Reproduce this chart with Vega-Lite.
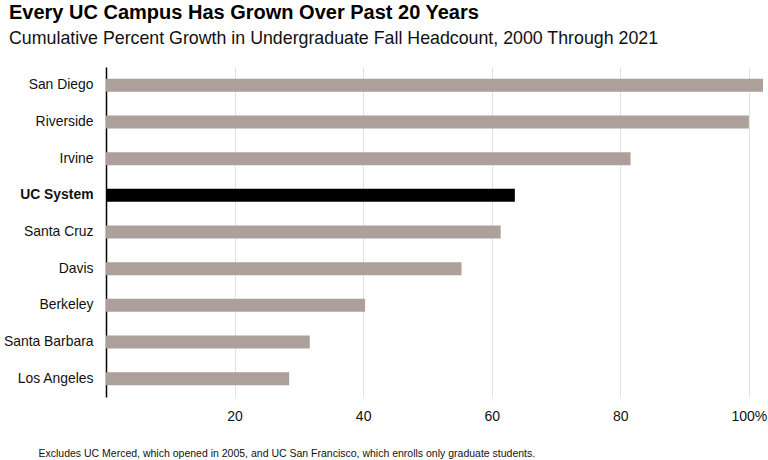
{
  "$schema": "https://vega.github.io/schema/vega-lite/v6.json",
  "autosize": {"type": "none"},
  "width": 657,
  "height": 330,
  "padding": {"left": 106, "top": 67, "right": 5, "bottom": 63},
  "background": "white",
  "config": {
    "font": "Liberation Sans",
    "view": {"stroke": null}
  },
  "title": {
    "text": "Every UC Campus Has Grown Over Past 20 Years",
    "subtitle": "Cumulative Percent Growth in Undergraduate Fall Headcount, 2000 Through 2021",
    "anchor": "start",
    "frame": "group",
    "dx": -97,
    "offset": 19,
    "fontSize": 20,
    "fontWeight": "bold",
    "color": "#000000",
    "subtitleFontSize": 17.8,
    "subtitleColor": "#111111",
    "subtitlePadding": 7
  },
  "data": {
    "values": [
      {"campus": "San Diego", "growth": 102.2},
      {"campus": "Riverside", "growth": 100.0},
      {"campus": "Irvine", "growth": 81.6},
      {"campus": "UC System", "growth": 63.6},
      {"campus": "Santa Cruz", "growth": 61.4},
      {"campus": "Davis", "growth": 55.3},
      {"campus": "Berkeley", "growth": 40.3},
      {"campus": "Santa Barbara", "growth": 31.7},
      {"campus": "Los Angeles", "growth": 28.5}
    ]
  },
  "mark": {"type": "bar", "height": 13},
  "encoding": {
    "y": {
      "field": "campus",
      "type": "nominal",
      "sort": null,
      "title": null,
      "axis": {
        "domain": true,
        "domainColor": "#000000",
        "domainWidth": 1.5,
        "ticks": false,
        "labelPadding": 13,
        "labelFontSize": 13.9,
        "labelColor": "#111111",
        "labelFontWeight": {"condition": {"test": "datum.value == 'UC System'", "value": "bold"}, "value": "normal"}
      }
    },
    "x": {
      "field": "growth",
      "type": "quantitative",
      "scale": {"domain": [0, 102.2], "nice": false},
      "axis": {
        "values": [20, 40, 60, 80, 100],
        "labelExpr": "datum.value == 100 ? '100%' : datum.label",
        "domain": false,
        "ticks": false,
        "grid": true,
        "gridColor": "#e2e2e2",
        "labelPadding": 12,
        "labelFontSize": 14,
        "labelColor": "#111111",
        "title": "Excludes UC Merced, which opened in 2005, and UC San Francisco, which enrolls only graduate students.",
        "titleFontSize": 10.5,
        "titleFontWeight": "normal",
        "titleColor": "#111111",
        "titleAnchor": "start",
        "titleAlign": "left",
        "titleBaseline": "alphabetic",
        "titleX": -68,
        "titleY": 59
      }
    },
    "color": {
      "condition": {"test": "datum.campus == 'UC System'", "value": "#000000"},
      "value": "#ad9f9a"
    }
  }
}
